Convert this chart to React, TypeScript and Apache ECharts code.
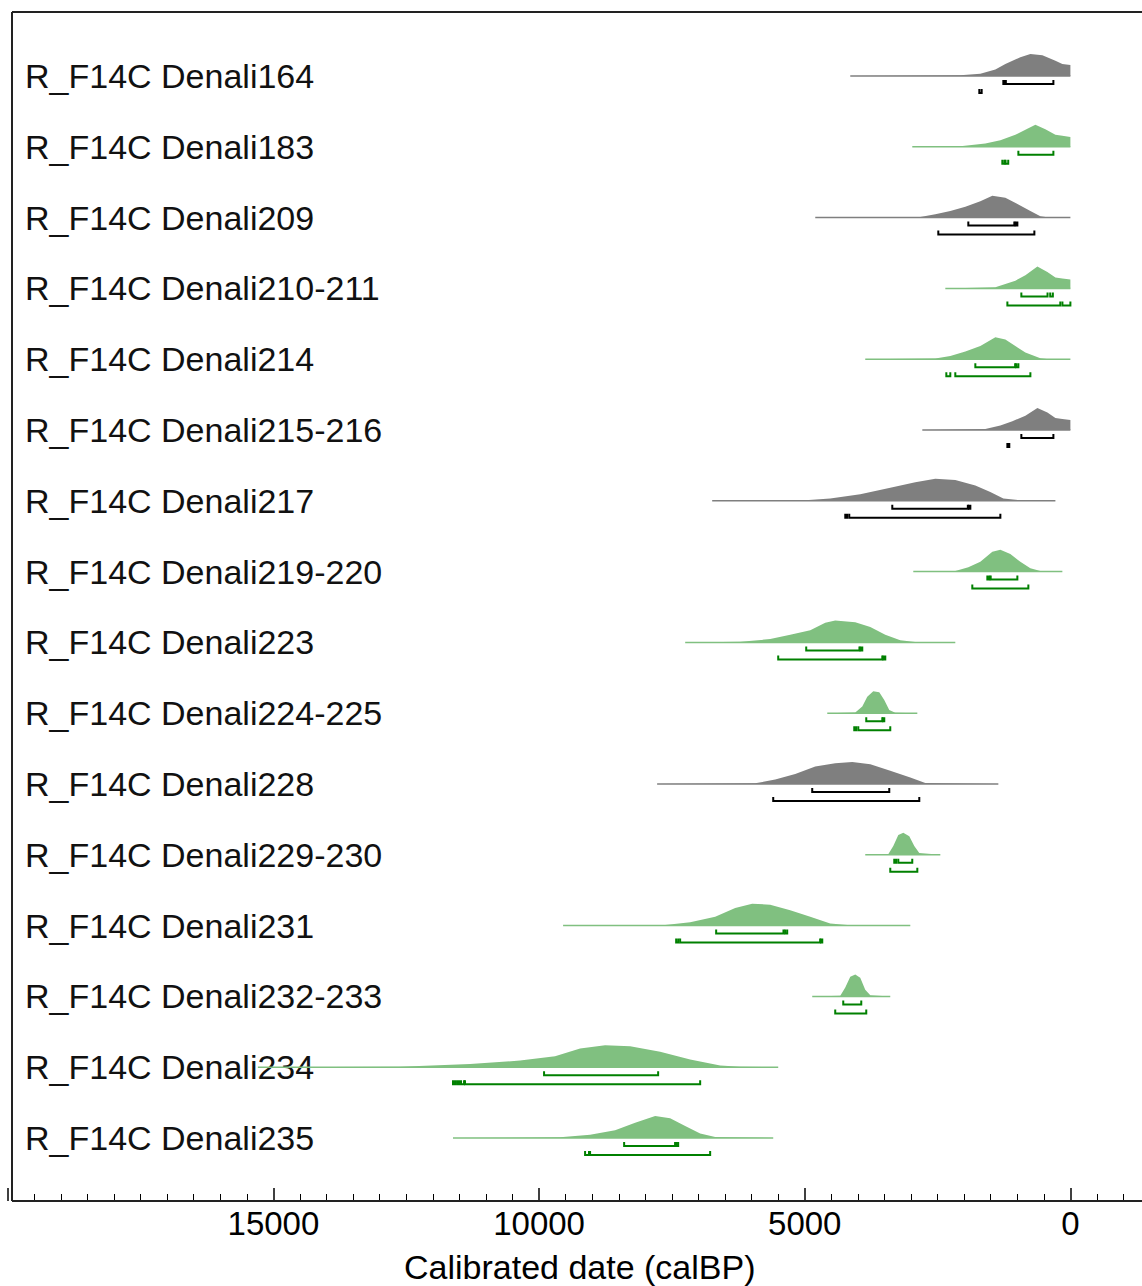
import React, { useEffect, useRef } from "react";
import * as echarts from "echarts";

const NAMES = [
  "R_F14C Denali164",
  "R_F14C Denali183",
  "R_F14C Denali209",
  "R_F14C Denali210-211",
  "R_F14C Denali214",
  "R_F14C Denali215-216",
  "R_F14C Denali217",
  "R_F14C Denali219-220",
  "R_F14C Denali223",
  "R_F14C Denali224-225",
  "R_F14C Denali228",
  "R_F14C Denali229-230",
  "R_F14C Denali231",
  "R_F14C Denali232-233",
  "R_F14C Denali234",
  "R_F14C Denali235",
];

const KINDS = ["gray", "green", "gray", "green", "green", "gray", "gray", "green", "green", "green", "gray", "green", "green", "green", "green", "green"];

// [calBP, relative probability]
const d164 = [[4143, 0], [2072, 0.03], [1695, 0.1], [1412, 0.3], [1224, 0.55], [942, 0.85], [753, 1], [527, 0.95], [282, 0.7], [151, 0.55], [0, 0.5], [0, 0]];
const d183 = [[2976, 0], [2072, 0.03], [1601, 0.15], [1318, 0.3], [1036, 0.55], [791, 0.85], [659, 1], [471, 0.8], [282, 0.55], [151, 0.5], [0, 0.45], [0, 0]];
const d209 = [[4802, 0], [2825, 0.03], [2542, 0.15], [2260, 0.3], [1977, 0.5], [1695, 0.75], [1469, 1], [1224, 0.9], [979, 0.6], [753, 0.3], [565, 0.06], [400, 0], [0, 0]];
const d210 = [[2354, 0], [1412, 0.05], [1224, 0.2], [1036, 0.35], [847, 0.6], [621, 1], [433, 0.75], [282, 0.5], [151, 0.45], [0, 0.4], [0, 0]];
const d214 = [[3861, 0], [2542, 0.03], [2260, 0.15], [1977, 0.35], [1695, 0.6], [1412, 1], [1224, 0.9], [1036, 0.6], [847, 0.3], [565, 0.04], [400, 0], [0, 0]];
const d215 = [[2787, 0], [1601, 0.04], [1318, 0.2], [1092, 0.4], [847, 0.65], [621, 1], [433, 0.8], [282, 0.55], [151, 0.5], [0, 0.45], [0, 0]];
const d217 = [[6742, 0], [4991, 0.02], [4520, 0.1], [3955, 0.3], [3390, 0.6], [2919, 0.85], [2542, 1], [2166, 0.95], [1789, 0.7], [1507, 0.4], [1262, 0.1], [942, 0.02], [282, 0]];
const d219 = [[2957, 0], [2166, 0.03], [1921, 0.2], [1695, 0.45], [1469, 0.9], [1318, 1], [1130, 0.8], [942, 0.45], [753, 0.15], [565, 0.03], [151, 0]];
const d223 = [[7250, 0], [6215, 0.03], [5650, 0.15], [5273, 0.35], [4896, 0.55], [4614, 0.9], [4426, 1], [4049, 0.92], [3766, 0.7], [3484, 0.35], [3202, 0.1], [2919, 0.02], [2166, 0]];
const d224 = [[4576, 0], [4049, 0.03], [3917, 0.3], [3823, 0.75], [3710, 1], [3597, 0.95], [3503, 0.6], [3409, 0.15], [3296, 0.02], [2881, 0]];
const d228 = [[7778, 0], [5932, 0.03], [5556, 0.2], [5179, 0.45], [4802, 0.8], [4426, 0.95], [4105, 1], [3766, 0.9], [3390, 0.6], [3013, 0.3], [2731, 0.05], [1356, 0]];
const d229 = [[3861, 0], [3428, 0.03], [3333, 0.4], [3239, 0.9], [3145, 1], [3032, 0.85], [2938, 0.4], [2844, 0.08], [2448, 0]];
const d231 = [[9548, 0], [7627, 0.03], [7156, 0.15], [6685, 0.4], [6309, 0.8], [5989, 1], [5650, 0.95], [5273, 0.7], [4896, 0.4], [4520, 0.1], [4143, 0.02], [3013, 0]];
const d232 = [[4859, 0], [4331, 0.03], [4237, 0.4], [4143, 0.9], [4049, 1], [3955, 0.85], [3861, 0.3], [3766, 0.05], [3390, 0]];
const d234 = [[15292, 0], [12618, 0.02], [11299, 0.15], [10358, 0.3], [9699, 0.5], [9228, 0.85], [8757, 1], [8286, 0.95], [7721, 0.7], [7156, 0.35], [6591, 0.08], [6215, 0.02], [5499, 0]];
const d235 = [[11620, 0], [9605, 0.03], [9040, 0.15], [8569, 0.35], [8192, 0.7], [7815, 1], [7533, 0.9], [7250, 0.55], [6968, 0.2], [6685, 0.04], [5593, 0]];

const DISTS = [d164, d183, d209, d210, d214, d215, d217, d219, d223, d224, d228, d229, d231, d232, d234, d235];

// 68.2% ranges [from, to] calBP
const SIGMA1 = [
  [[1262, 1230], [1215, 320]],
  [[979, 320]],
  [[1921, 1055], [1030, 998]],
  [[923, 430], [380, 330]],
  [[1789, 1040], [1020, 979]],
  [[923, 320]],
  [[3352, 1930], [1910, 1883]],
  [[1563, 1525], [1500, 998]],
  [[4972, 3970], [3950, 3917]],
  [[3842, 3540], [3525, 3503]],
  [[4859, 3409]],
  [[3315, 3277], [3239, 2976]],
  [[6667, 5400], [5370, 5330]],
  [[4275, 3936]],
  [[9906, 7759]],
  [[8399, 7440], [7420, 7382]],
];

// 95.4% ranges [from, to] calBP
const SIGMA2 = [
  [[1714, 1670]],
  [[1281, 1240], [1220, 1170]],
  [[2486, 678]],
  [[1186, 190], [150, 0]],
  [[2335, 2260], [2166, 753]],
  [[1186, 1150]],
  [[4237, 4200], [4162, 1318]],
  [[1846, 791]],
  [[5499, 3540], [3520, 3484]],
  [[4068, 4030], [3992, 3390]],
  [[5593, 2844]],
  [[3390, 2881]],
  [[7420, 7380], [7345, 4710], [4690, 4670]],
  [[4426, 3842]],
  [[11620, 11582], [11544, 11507], [11469, 11412], [11394, 6968]],
  [[9134, 9060], [9040, 6780]],
];

const X_MIN = -5000;
const X_MAX = 20000;
const X_INTERVAL = 5000;
const AXIS_NAME = "Calibrated date (calBP)";

const FONT = "'Liberation Sans', Arial, Helvetica, sans-serif";
const GRAY_FILL = "#7f7f7f";
const GREEN_FILL = "#80c080";
const GRAY_LINE = "#000000";
const GREEN_LINE = "#008000";
const PEAK = 0.31;

const CANVAS_W = 1342;

export default function App() {
  const ref = useRef<HTMLDivElement>(null);

  useEffect(() => {
    if (!ref.current) return;
    const chart = echarts.init(ref.current, undefined, { renderer: "svg" });

    const bracketData: number[][] = [];
    SIGMA1.forEach((rs, i) => rs.forEach(([a, b]) => bracketData.push([a, i, b, 1])));
    SIGMA2.forEach((rs, i) => rs.forEach(([a, b]) => bracketData.push([a, i, b, 2])));

    const option: any = {
      animation: false,
      backgroundColor: "#ffffff",
      grid: { left: 7.75, right: CANVAS_W - 7.75 - 1328.3, top: 12, bottom: 85, show: false },
      xAxis: {
        type: "value",
        inverse: true,
        min: X_MIN,
        max: X_MAX,
        interval: X_INTERVAL,
        position: "bottom",
        axisLine: { show: false, onZero: false },
        splitLine: { show: false },
        axisTick: { show: true, inside: true, length: 13, lineStyle: { color: "#000", width: 1.5 } },
        minorTick: { show: true, splitNumber: 10, length: 7, lineStyle: { color: "#000", width: 1 } },
        axisLabel: {
          fontSize: 33,
          fontFamily: FONT,
          color: "#000",
          margin: 6,
          formatter: (v: number) => (v < 0 || v >= 20000 ? "" : String(v)),
        },
      },
      yAxis: {
        type: "value",
        inverse: true,
        min: -0.904,
        max: 15.89,
        show: false,
        axisLine: { onZero: false },
      },
      graphic: [
        { type: "line", shape: { x1: 12, y1: 12, x2: 1142, y2: 12 }, style: { stroke: "#222", lineWidth: 2 }, z: 10 },
        { type: "line", shape: { x1: 12, y1: 12, x2: 12, y2: 1201 }, style: { stroke: "#222", lineWidth: 2 }, z: 10 },
        { type: "line", shape: { x1: 12, y1: 1201, x2: 1142, y2: 1201 }, style: { stroke: "#222", lineWidth: 2 }, z: 10 },
        {
          type: "text",
          left: 404,
          top: 1250,
          style: { text: AXIS_NAME, fontSize: 34, fontFamily: FONT, fill: "#000" },
        },
      ],
      series: [
        {
          type: "custom",
          clip: false,
          data: NAMES.map((_, i) => [0, i]),
          renderItem: (params: any, api: any) => {
            const i = params.dataIndex;
            const pts = DISTS[i];
            const color = KINDS[i] === "gray" ? GRAY_FILL : GREEN_FILL;
            const base = api.coord([0, i])[1];
            const poly = pts.map(([d, h]) => api.coord([d, i - h * PEAK]));
            const t0 = api.coord([pts[0][0], i]);
            const t1 = api.coord([pts[pts.length - 1][0], i]);
            return {
              type: "group",
              children: [
                {
                  type: "text",
                  style: {
                    text: NAMES[i],
                    x: 25,
                    y: base,
                    verticalAlign: "middle",
                    align: "left",
                    fontSize: 34,
                    fontFamily: FONT,
                    fill: "#111",
                  },
                },
                { type: "polygon", shape: { points: poly }, style: { fill: color } },
                {
                  type: "line",
                  shape: { x1: t0[0], y1: t0[1], x2: t1[0], y2: t1[1] },
                  style: { stroke: color, lineWidth: 1.5 },
                },
              ],
            };
          },
        },
        {
          type: "custom",
          clip: false,
          data: bracketData,
          renderItem: (params: any, api: any) => {
            const a = api.value(0);
            const i = api.value(1);
            const b = api.value(2);
            const lvl = api.value(3);
            const p1 = api.coord([a, i]);
            const p2 = api.coord([b, i]);
            const y = p1[1] + (lvl === 1 ? 8 : 17);
            const color = KINDS[i] === "gray" ? GRAY_LINE : GREEN_LINE;
            return {
              type: "polyline",
              shape: {
                points: [
                  [p1[0], y - 4],
                  [p1[0], y],
                  [p2[0], y],
                  [p2[0], y - 4],
                ],
              },
              style: { stroke: color, lineWidth: 2, fill: "none" },
            };
          },
        },
      ],
    };

    chart.setOption(option);
    return () => chart.dispose();
  }, []);

  return (
    <div style={{ position: "fixed", left: 0, top: 0, width: 1142, height: 1286, overflow: "hidden", background: "#fff" }}>
      <div ref={ref} style={{ width: CANVAS_W, height: 1286 }} />
    </div>
  );
}
